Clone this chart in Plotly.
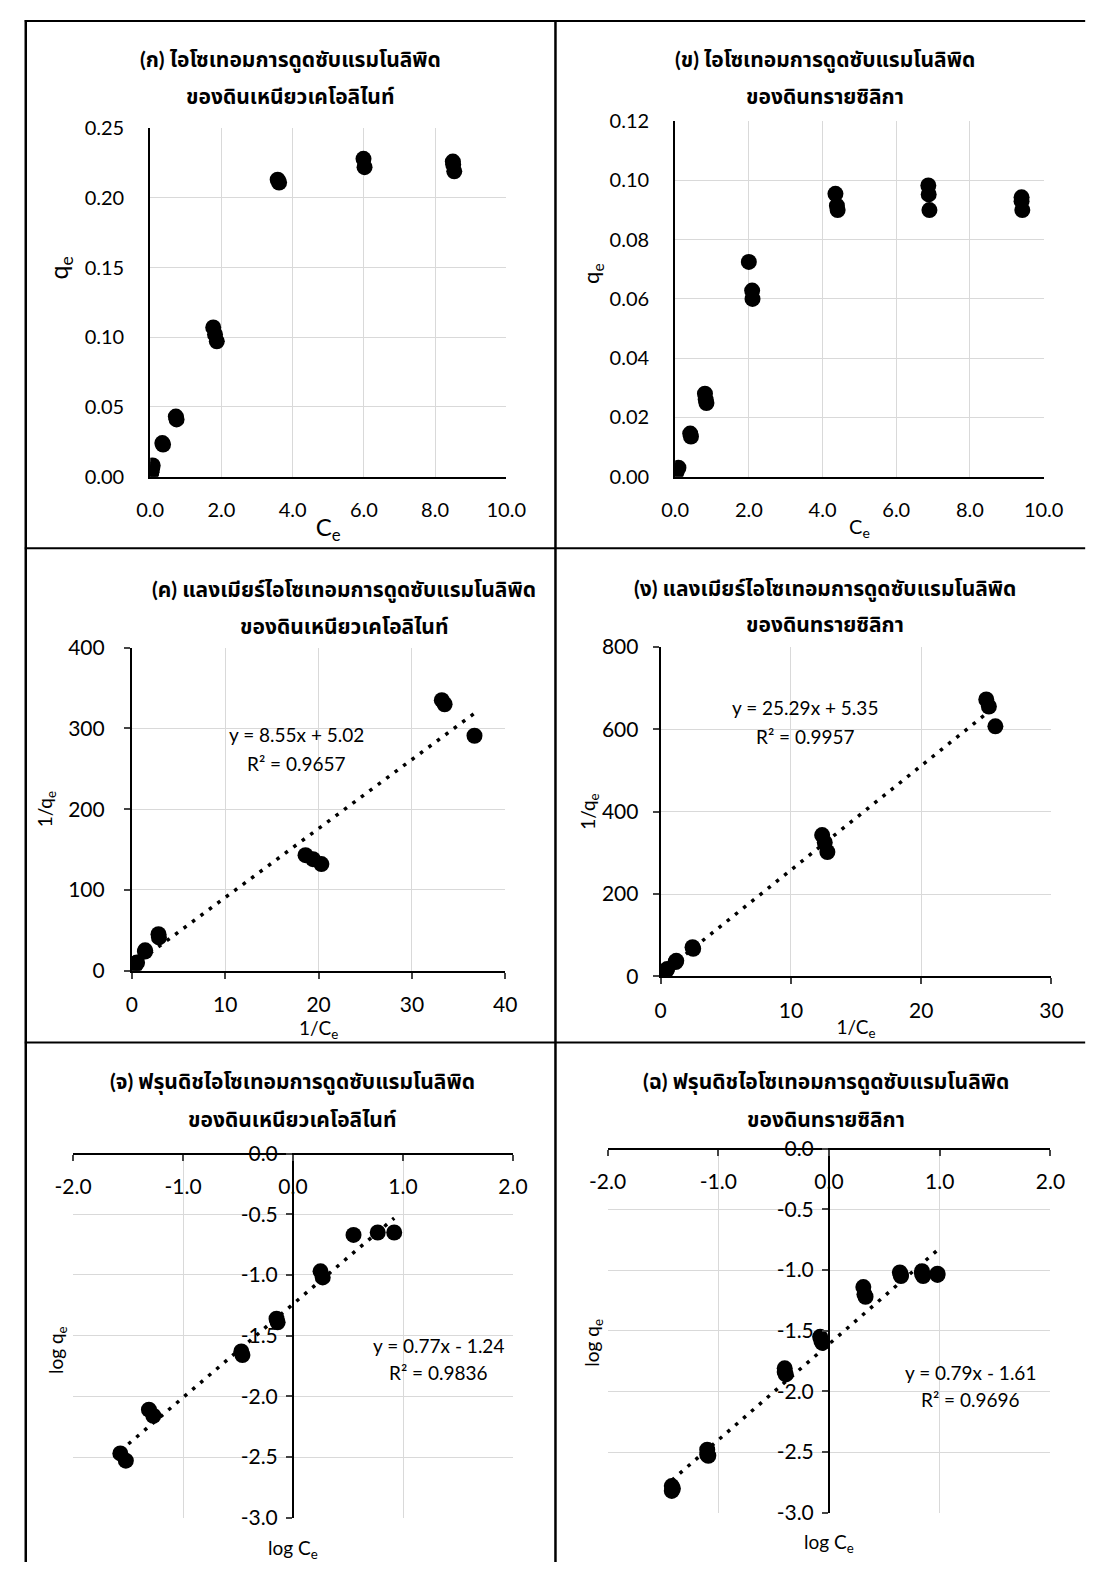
import plotly.graph_objects as go

W, H = 1110, 1573
FONT = "Lato, 'Noto Sans Thai', 'Noto Sans', 'DejaVu Sans', sans-serif"

# ---------------- data ----------------
# (ก) kaolinite isotherm
a_ce = [0.00, 0.02, 0.05, 0.07, 0.03, 0.34, 0.36, 0.72, 0.74, 1.77, 1.82, 1.87, 3.58, 3.62, 5.99, 6.02, 8.50, 8.51, 8.54]
a_qe = [0.000, 0.002, 0.005, 0.008, 0.003, 0.024, 0.023, 0.043, 0.041, 0.107, 0.102, 0.097, 0.213, 0.211, 0.228, 0.222, 0.226, 0.224, 0.219]
# (ข) silica sand isotherm
b_ce = [0.00, 0.02, 0.05, 0.09, 0.41, 0.43, 0.81, 0.83, 0.85, 2.00, 2.09, 2.10, 4.35, 4.39, 4.41, 6.87, 6.88, 6.90, 9.40, 9.40, 9.42]
b_qe = [0.000, 0.001, 0.002, 0.003, 0.0145, 0.0135, 0.028, 0.026, 0.0248, 0.0725, 0.0628, 0.0600, 0.0955, 0.0915, 0.0900, 0.0983, 0.0953, 0.0900, 0.0943, 0.0930, 0.0900]
# (ค) Langmuir kaolinite
c_inv_ce = [0.12, 0.17, 0.28, 0.50, 0.55, 1.40, 1.42, 2.85, 2.90, 18.6, 19.4, 20.3, 33.2, 33.5, 36.7]
c_inv_qe = [4.5, 4.4, 4.7, 9.4, 10.0, 23.5, 25.0, 45.0, 41.0, 143, 138, 132, 335, 330, 291]
c_fit = (8.55, 5.02)
# (ง) Langmuir silica sand
d_inv_ce = [0.05, 0.10, 0.23, 0.45, 0.50, 1.15, 1.20, 2.45, 2.50, 12.4, 12.6, 12.8, 25.0, 25.2, 25.7]
d_inv_qe = [1.5, 3.0, 9.0, 15.0, 18.0, 35.0, 38.0, 71.0, 67.0, 343, 325, 302, 672, 655, 607]
d_fit = (25.29, 5.35)
# (จ) Freundlich kaolinite
e_log_ce = [-1.57, -1.52, -1.31, -1.27, -0.47, -0.46, -0.15, -0.14, 0.25, 0.27, 0.55, 0.77, 0.92]
e_log_qe = [-2.47, -2.53, -2.11, -2.16, -1.63, -1.66, -1.36, -1.39, -0.97, -1.02, -0.67, -0.65, -0.65]
e_fit = (0.77, -1.24)
# (ฉ) Freundlich silica sand
f_log_ce = [-1.42, -1.42, -1.41, -1.10, -1.10, -1.09, -0.40, -0.40, -0.39, -0.08, -0.07, -0.06, 0.31, 0.32, 0.33, 0.64, 0.65, 0.65, 0.84, 0.84, 0.85, 0.98, 0.98]
f_log_qe = [-2.78, -2.82, -2.80, -2.48, -2.52, -2.53, -1.81, -1.84, -1.86, -1.55, -1.58, -1.60, -1.14, -1.20, -1.22, -1.02, -1.04, -1.05, -1.01, -1.03, -1.05, -1.03, -1.04]
f_fit = (0.79, -1.61)

titles = {
    "a": ["(ก) ไอโซเทอมการดูดซับแรมโนลิพิด", "ของดินเหนียวเคโอลิไนท์"],
    "b": ["(ข) ไอโซเทอมการดูดซับแรมโนลิพิด", "ของดินทรายซิลิกา"],
    "c": ["(ค) แลงเมียร์ไอโซเทอมการดูดซับแรมโนลิพิด", "ของดินเหนียวเคโอลิไนท์"],
    "d": ["(ง) แลงเมียร์ไอโซเทอมการดูดซับแรมโนลิพิด", "ของดินทรายซิลิกา"],
    "e": ["(จ) ฟรุนดิชไอโซเทอมการดูดซับแรมโนลิพิด", "ของดินเหนียวเคโอลิไนท์"],
    "f": ["(ฉ) ฟรุนดิชไอโซเทอมการดูดซับแรมโนลิพิด", "ของดินทรายซิลิกา"],
}
eq_text = {
    "c": ["y = 8.55x + 5.02", "R² = 0.9657"],
    "d": ["y = 25.29x + 5.35", "R² = 0.9957"],
    "e": ["y = 0.77x - 1.24", "R² = 0.9836"],
    "f": ["y = 0.79x - 1.61", "R² = 0.9696"],
}
log_x_ticks = [-2, -1, 0, 1, 2]
log_x_labels = ["-2.0", "-1.0", "0.0", "1.0", "2.0"]
log_y_ticks = [0, -0.5, -1, -1.5, -2, -2.5, -3]
log_y_labels = ["0.0", "-0.5", "-1.0", "-1.5", "-2.0", "-2.5", "-3.0"]

# ---------------- layout helpers ----------------
def fx(px):
    return px / W

def fy(py):
    return 1 - py / H

# plot-area boxes in pixels: x_left, x_right, y_top, y_bottom
box = {
    "a": (136, 505, 116, 470),
    "b": (680, 1062, 109, 470),
    "c": (117, 504, 644, 972),
    "d": (665, 1070, 643, 978),
    "e": (56, 512, 1158, 1528),
    "f": (610, 1069, 1153, 1523),
}
title_pos = {
    "a": (281, 46, 83),
    "b": (835, 46, 83),
    "c": (337, 585, 621),
    "d": (835, 584, 619),
    "e": (283, 1085, 1122),
    "f": (836, 1085, 1122),
}

fig = go.Figure()
GRID = "#d9d9d9"
ann = []

def base_axis(size=20, **kw):
    d = dict(showgrid=True, gridcolor=GRID, gridwidth=1.3, zeroline=False,
             tickfont=dict(family=FONT, size=size, color="black"),
             linecolor="black", linewidth=2, fixedrange=True)
    d.update(kw)
    return d

panels = [
    ("a", "", a_ce, a_qe, None),
    ("b", "2", b_ce, b_qe, None),
    ("c", "3", c_inv_ce, c_inv_qe, c_fit),
    ("d", "4", d_inv_ce, d_inv_qe, d_fit),
    ("e", "5", e_log_ce, e_log_qe, e_fit),
    ("f", "6", f_log_ce, f_log_qe, f_fit),
]

for key, n, xs, ys, fit in panels:
    xa, ya = "x" + n, "y" + n
    fig.add_trace(go.Scatter(x=xs, y=ys, mode="markers", xaxis=xa, yaxis=ya,
                             marker=dict(color="black", size=16), showlegend=False,
                             hoverinfo="skip"))
    if fit:
        m, b = fit
        x_lo, x_hi = min(xs), max(xs)
        fig.add_trace(go.Scatter(x=[x_lo, x_hi], y=[m * x_lo + b, m * x_hi + b],
                                 mode="lines", xaxis=xa, yaxis=ya, showlegend=False,
                                 line=dict(color="black", width=3.5, dash="3.5px,7px"),
                                 hoverinfo="skip"))
    tx, t1, t2 = title_pos[key]
    for txt, ty in zip(titles[key], (t1, t2)):
        ann.append(dict(text="<b>" + txt + "</b>", x=fx(tx), y=fy(ty), xref="paper", yref="paper",
                        showarrow=False, xanchor="center", yanchor="middle",
                        font=dict(family=FONT, size=21, color="black")))

layout = dict(width=W, height=H, margin=dict(l=0, r=0, t=0, b=0),
              paper_bgcolor="white", plot_bgcolor="white", showlegend=False)

def dom(key):
    x0, x1, yt, yb = box[key]
    return [fx(x0), fx(x1)], [fy(yb), fy(yt)]

xd, yd = dom("a")
layout["xaxis"] = base_axis(domain=xd, range=[0, 10], dtick=2, tickformat=".1f",
                            showline=True, anchor="y", ticks="", ticklabelstandoff=14,
                            title=dict(text="C<sub>e</sub>", font=dict(family=FONT, size=24, color="black"), standoff=0))
layout["yaxis"] = base_axis(domain=yd, range=[0, 0.25], dtick=0.05, tickformat=".2f",
                            showline=True, anchor="x", ticks="", ticklabelstandoff=20)
xd, yd = dom("b")
layout["xaxis2"] = base_axis(domain=xd, range=[0, 10], dtick=2, tickformat=".1f",
                             showline=True, anchor="y2", ticks="", ticklabelstandoff=14,
                             title=dict(text="C<sub>e</sub>", font=dict(family=FONT, size=20, color="black"), standoff=0))
layout["yaxis2"] = base_axis(domain=yd, range=[0, 0.12], dtick=0.02, tickformat=".2f",
                             showline=True, anchor="x2", ticks="", ticklabelstandoff=20)
xd, yd = dom("c")
layout["xaxis3"] = base_axis(size=21, domain=xd, range=[0, 40], dtick=10,
                             showline=True, anchor="y3", ticks="outside", ticklen=6, tickwidth=1.5,
                             ticklabelstandoff=8,
                             title=dict(text="1/C<sub>e</sub>", font=dict(family=FONT, size=19, color="black"), standoff=0))
layout["yaxis3"] = base_axis(size=21, domain=yd, range=[0, 400], dtick=100,
                             showline=True, anchor="x3", ticks="outside", ticklen=6, tickwidth=1.5,
                             ticklabelstandoff=15,
                             title=dict(text="1/q<sub>e</sub>", font=dict(family=FONT, size=19, color="black"), standoff=10))
xd, yd = dom("d")
layout["xaxis4"] = base_axis(size=21, domain=xd, range=[0, 30], dtick=10,
                             showline=True, anchor="y4", ticks="outside", ticklen=6, tickwidth=1.5,
                             ticklabelstandoff=8,
                             title=dict(text="1/C<sub>e</sub>", font=dict(family=FONT, size=19, color="black"), standoff=0))
layout["yaxis4"] = base_axis(size=21, domain=yd, range=[0, 800], dtick=200,
                             showline=True, anchor="x4", ticks="outside", ticklen=6, tickwidth=1.5,
                             ticklabelstandoff=10,
                             title=dict(text="1/q<sub>e</sub>", font=dict(family=FONT, size=19, color="black"), standoff=1))
# (จ) and (ฉ): axes crossing at zero, x axis on top
for n, key in (("5", "e"), ("6", "f")):
    x0, x1, yt, yb = box[key]
    xd, yd = dom(key)
    layout["xaxis" + n] = base_axis(size=21, domain=xd, range=[-2, 2], tickvals=log_x_ticks,
                                    ticktext=log_x_labels, showline=True, anchor="free",
                                    position=fy(yt), side="bottom", ticks="outside", ticklen=6,
                                    tickwidth=1.5, ticklabelstandoff=8)
    layout["yaxis" + n] = base_axis(size=21, domain=yd, range=[-3, 0], tickvals=log_y_ticks,
                                    ticktext=log_y_labels, showline=True, anchor="free",
                                    position=fx((x0 + x1) / 2), side="left", ticks="outside",
                                    ticklen=6, tickwidth=1.5, ticklabelstandoff=4)

# free-standing axis titles
for txt, px, py, ang, sz in (("q<sub>e</sub>", 42, 258, -90, 25), ("q<sub>e</sub>", 594, 264, -90, 22),
                             ("log q<sub>e</sub>", 40, 1358, -90, 19), ("log C<sub>e</sub>", 284, 1560, 0, 19),
                             ("log q<sub>e</sub>", 594, 1350, -90, 19), ("log C<sub>e</sub>", 840, 1554, 0, 19)):
    ann.append(dict(text=txt, x=fx(px), y=fy(py), xref="paper", yref="paper",
                    xanchor="center", yanchor="middle",
                    showarrow=False, textangle=ang, font=dict(family=FONT, size=sz, color="black")))

eq_pos = {
    "c": ("3", 17.6, 293, 257),
    "d": ("4", 11.1, 652, 583),
    "e": ("5", 1.32, -1.58, -1.80),
    "f": ("6", 1.28, -1.84, -2.07),
}
for key, (n, ex, ey1, ey2) in eq_pos.items():
    for txt, ey in zip(eq_text[key], (ey1, ey2)):
        ann.append(dict(text=txt, x=ex, y=ey, xref="x" + n, yref="y" + n, showarrow=False,
                        xanchor="center", yanchor="middle",
                        font=dict(family=FONT, size=19, color="black")))

layout["annotations"] = ann

# table borders
shapes = []
for py in (7, 543, 1045):
    shapes.append(dict(type="line", xref="paper", yref="paper", x0=fx(6), x1=fx(1105),
                       y0=fy(py), y1=fy(py), line=dict(color="black", width=2)))
for px in (7, 556):
    shapes.append(dict(type="line", xref="paper", yref="paper", x0=fx(px), x1=fx(px),
                       y0=fy(6), y1=0, line=dict(color="black", width=2.5)))
layout["shapes"] = shapes

fig.update_layout(**layout)
fig.write_html("out.html")
